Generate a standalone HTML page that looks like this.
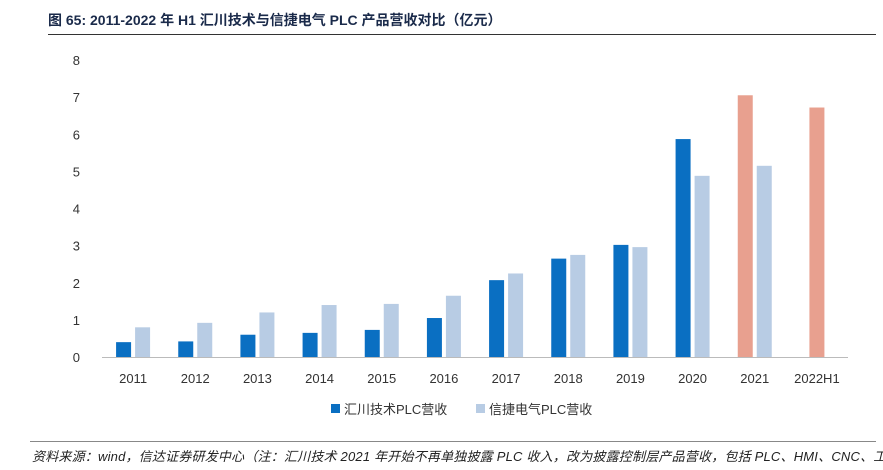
<!DOCTYPE html>
<html><head><meta charset="utf-8"><style>
body{margin:0;width:883px;height:470px;background:#fff;overflow:hidden;font-family:"Liberation Sans","Noto Sans CJK SC",sans-serif;position:relative}
#title{position:absolute;left:48px;top:10px;font-size:14px;font-weight:bold;color:#1a2a4a;white-space:nowrap}
#tline{position:absolute;left:48px;top:34px;width:828px;height:1px;background:#333}
#fline{position:absolute;left:30px;top:441px;width:846px;height:1px;background:#888}
#foot{position:absolute;left:32px;top:446px;font-size:13px;letter-spacing:0.2px;font-style:italic;color:#222;white-space:nowrap}
</style></head><body>
<div id="title">图 65:  2011-2022 年 H1 汇川技术与信捷电气 PLC 产品营收对比（亿元）</div>
<div id="tline"></div>
<svg id="chart" width="883" height="470" style="position:absolute;left:0;top:0"></svg>
<div id="fline"></div>
<div id="foot">资料来源：wind，信达证券研发中心（注：汇川技术 2021 年开始不再单独披露 PLC 收入，改为披露控制层产品营收，包括 PLC、HMI、CNC、工</div>
<script>
const categories=["2011","2012","2013","2014","2015","2016","2017","2018","2019","2020","2021","2022H1"];
const inovance=[0.4,0.42,0.6,0.65,0.73,1.05,2.07,2.65,3.02,5.87,7.05,6.72];
const xinje=[0.8,0.92,1.2,1.4,1.43,1.65,2.25,2.75,2.96,4.88,5.15,null];
const yTicks=[0,1,2,3,4,5,6,7,8];
const NS="http://www.w3.org/2000/svg";
const svg=document.getElementById('chart');
const x0=102,x1=848,y0=357,yTop=60;
const y=v=>y0-(v/8)*(y0-yTop);
const band=(x1-x0)/categories.length;
const cx=i=>x0+band*(i+0.5);
function mk(t,a){const e=document.createElementNS(NS,t);for(const k in a)e.setAttribute(k,a[k]);svg.appendChild(e);return e;}
yTicks.forEach(t=>{const e=mk('text',{x:80,y:y(t)+5,'text-anchor':'end','font-size':13,fill:'#333'});e.textContent=t;

});
const ax=mk('line',{x1:x0,x2:x1,y1:y0+0.5,y2:y0+0.5,stroke:'#bbb'});


const bw=15;
categories.forEach((c,i)=>{
  const salmon=i>=10;
  const single=xinje[i]==null;
  const bx=single?cx(i)-bw/2:cx(i)-bw-2;
  const r=mk('rect',{x:bx,y:y(inovance[i]),width:bw,height:y0-y(inovance[i]),fill:salmon?'#e8a08f':'#0a6fc2'});
  
  
  if(!single){const r2=mk('rect',{x:cx(i)+2,y:y(xinje[i]),width:bw,height:y0-y(xinje[i]),fill:'#b8cce4'});
  
  }
  const t=mk('text',{x:cx(i),y:383,'text-anchor':'middle','font-size':13,fill:'#333'});t.textContent=c;
  
  
});
const leg=[["汇川技术PLC营收",'#0a6fc2',331],["信捷电气PLC营收",'#b8cce4',476]];
leg.forEach(l=>{const r=mk('rect',{x:l[2],y:404,width:9,height:9,fill:l[1]});


const t=mk('text',{x:l[2]+13,y:414,'font-size':13,fill:'#333'});t.textContent=l[0];

});
</script>
</body></html>
